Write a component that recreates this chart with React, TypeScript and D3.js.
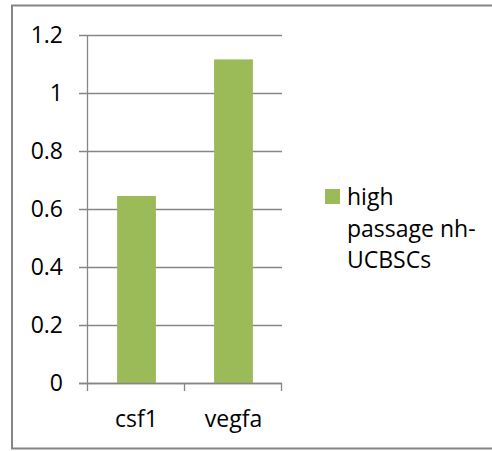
import React from "react";
import * as d3 from "d3";

const categories = ["csf1", "vegfa"];
const values = [0.645, 1.116];
const yTicks = [0, 0.2, 0.4, 0.6, 0.8, 1, 1.2];
const yTickLabels = ["0", "0.2", "0.4", "0.6", "0.8", "1", "1.2"];
const legendLines = ["high", "passage nh-", "UCBSCs"];

const W = 492;
const H = 451;
const FONT = "'Open Sans', sans-serif";
const BAR = "#9BBB59";
const GRID = "#868686";

export default function App() {
  const x = d3.scaleBand<string>().domain(categories).range([88, 282]).paddingInner(0.6).paddingOuter(0.3);
  const y = d3.scaleLinear().domain([0, 1.2]).range([383, 35]);
  const xEdges = [88, ...categories.map((c) => (x(c) as number) + x.bandwidth() + (x.step() * 0.6) / 2)];

  return (
    <svg width={W} height={H} style={{ position: "absolute", left: 0, top: 0, background: "#fff" }} fontFamily={FONT}>
      <rect x={0} y={0} width={W} height={H} fill="#fff" />
      <rect x={12} y={5.5} width={500} height={443} fill="none" stroke={GRID} strokeWidth={2} />
      {yTicks.map((t, i) => (
        <g key={i}>
          <line x1={79} x2={282} y1={Math.round(y(t)) + 0.5} y2={Math.round(y(t)) + 0.5} stroke={GRID} strokeWidth={1.3} />
          <text x={63} y={y(t)} dy="0.35em" textAnchor="end" fontSize={23} fill="#000">
            {yTickLabels[i]}
          </text>
        </g>
      ))}
      {categories.map((c, i) => (
        <rect key={c} x={x(c)} y={y(values[i])} width={x.bandwidth()} height={y(0) - y(values[i])} fill={BAR} />
      ))}
      <line x1={87.5} x2={87.5} y1={y(1.2)} y2={391} stroke={GRID} strokeWidth={1.3} />
      <line x1={79} x2={282} y1={383.5} y2={383.5} stroke={GRID} strokeWidth={1.3} />
      {xEdges.slice(1).map((e, i) => (
        <line key={i} x1={Math.round(e) - 0.5} x2={Math.round(e) - 0.5} y1={383} y2={391} stroke={GRID} strokeWidth={1.3} />
      ))}
      {categories.map((c) => (
        <text key={c} x={(x(c) as number) + x.bandwidth() / 2} y={427} textAnchor="middle" fontSize={23} fill="#000">
          {c}
        </text>
      ))}
      <rect x={325} y={189} width={15} height={15} fill={BAR} />
      {legendLines.map((l, i) => (
        <text key={i} x={347} y={205 + i * 31.5} fontSize={23} fill="#000">
          {l}
        </text>
      ))}
    </svg>
  );
}
